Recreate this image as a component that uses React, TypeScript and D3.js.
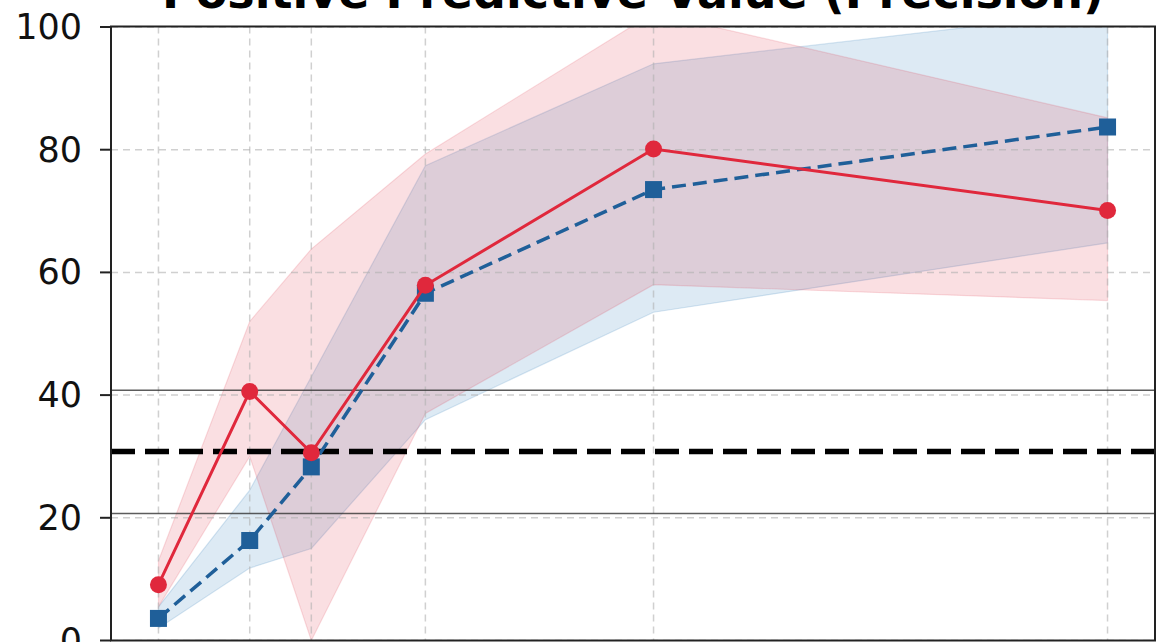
import React from "react";
import * as d3 from "d3";

// x positions (tick labels not visible in the crop)
const xValues = [1, 5, 7.7, 12.7, 22.7, 42.6];
const yTicks = [0, 20, 40, 60, 80, 100];

// Red series (circles, solid)
const redMean = [9.1, 40.6, 30.6, 57.9, 80.1, 70.1];
const redUpper = [13, 52, 63.8, 79.3, 102.3, 85.2];
const redLower = [5.5, 30, 0, 37, 58, 55.4];

// Blue series (squares, dashed)
const blueMean = [3.6, 16.3, 28.3, 56.6, 73.5, 83.7];
const blueUpper = [5.5, 24.5, 43, 77.4, 94, 102.6];
const blueLower = [2, 11.8, 15, 36, 53.5, 64.8];

// Reference lines
const baselineMean = 30.8;
const baselineBand = [20.7, 40.8];

const title = "Positive Predictive Value (Precision)";

const W = 1157;
const H = 642;
const L = 111, R = 1155, T = 26.5, B = 640.5;

const RED = "#e0283c";
const BLUE = "#1f5f99";
const BLUE_FILL = "#2a7ab8";

export default function App() {
  const xr = xValues[xValues.length - 1] - xValues[0];
  const x = d3.scaleLinear().domain([xValues[0] - 0.05 * xr, xValues[xValues.length - 1] + 0.05 * xr]).range([L, R]);
  const y = d3.scaleLinear().domain([0, 100]).range([B, 27]);

  const idx = xValues.map((_, i) => i);
  const area = (up: number[], lo: number[]) =>
    d3.area<number>().x((i) => x(xValues[i])).y0((i) => y(lo[i])).y1((i) => y(up[i]))(idx) || "";
  const line = (v: number[]) => d3.line<number>().x((i) => x(xValues[i])).y((i) => y(v[i]))(idx) || "";

  return (
    <svg width={W} height={H} style={{ position: "absolute", left: 0, top: 0, background: "#fff" }}
      fontFamily="'DejaVu Sans', sans-serif">
      <defs>
        <clipPath id="plot">
          <rect x={L} y={T} width={R - L} height={B - T} />
        </clipPath>
      </defs>
      <rect x={0} y={0} width={W} height={H} fill="#fff" />
      <g clipPath="url(#plot)">
        <path d={area(blueUpper, blueLower)} fill={BLUE_FILL} fillOpacity={0.16} stroke={BLUE_FILL} strokeOpacity={0.18} strokeWidth={1.2} />
        <path d={area(redUpper, redLower)} fill={RED} fillOpacity={0.15} stroke={RED} strokeOpacity={0.15} strokeWidth={1.2} />
        {/* grid */}
        {xValues.map((v, i) => (
          <line key={"gx" + i} x1={x(v)} x2={x(v)} y1={T} y2={B} stroke="#b0b0b0" strokeOpacity={0.6} strokeWidth={1.5} strokeDasharray="7,5" />
        ))}
        {yTicks.map((v, i) => (
          <line key={"gy" + i} x1={L} x2={R} y1={y(v)} y2={y(v)} stroke="#b0b0b0" strokeOpacity={0.6} strokeWidth={1.5} strokeDasharray="7,5" />
        ))}
        {/* reference lines */}
        {baselineBand.map((v, i) => (
          <line key={"bb" + i} x1={L} x2={R} y1={y(v)} y2={y(v)} stroke="#333" strokeOpacity={0.8} strokeWidth={1.5} />
        ))}
        <line x1={L} x2={R} y1={y(baselineMean)} y2={y(baselineMean)} stroke="#000" strokeWidth={5.5} strokeDasharray="24,10" />
        {/* blue */}
        <path d={line(blueMean)} fill="none" stroke={BLUE} strokeWidth={3.5} strokeDasharray="14,7" />
        {blueMean.map((v, i) => (
          <rect key={"bs" + i} x={x(xValues[i]) - 8.5} y={y(v) - 8.5} width={17} height={17} fill={BLUE} />
        ))}
        {/* red */}
        <path d={line(redMean)} fill="none" stroke={RED} strokeWidth={3} />
        {redMean.map((v, i) => (
          <circle key={"rc" + i} cx={x(xValues[i])} cy={y(v)} r={8.5} fill={RED} />
        ))}
      </g>
      {/* spines */}
      <rect x={L} y={T} width={R - L} height={B - T} fill="none" stroke="#222" strokeWidth={2} />
      {/* y ticks */}
      {yTicks.map((v, i) => (
        <g key={"yt" + i}>
          <line x1={L - 11} x2={L} y1={y(v)} y2={y(v)} stroke="#222" strokeWidth={2} />
          <text x={82} y={y(v)} textAnchor="end" dominantBaseline="central" fontSize={35} fill="#111">{v}</text>
        </g>
      ))}
      <text x={(L + R) / 2} y={8} textAnchor="middle" fontSize={46} fontWeight="bold" fill="#000">{title}</text>
    </svg>
  );
}
